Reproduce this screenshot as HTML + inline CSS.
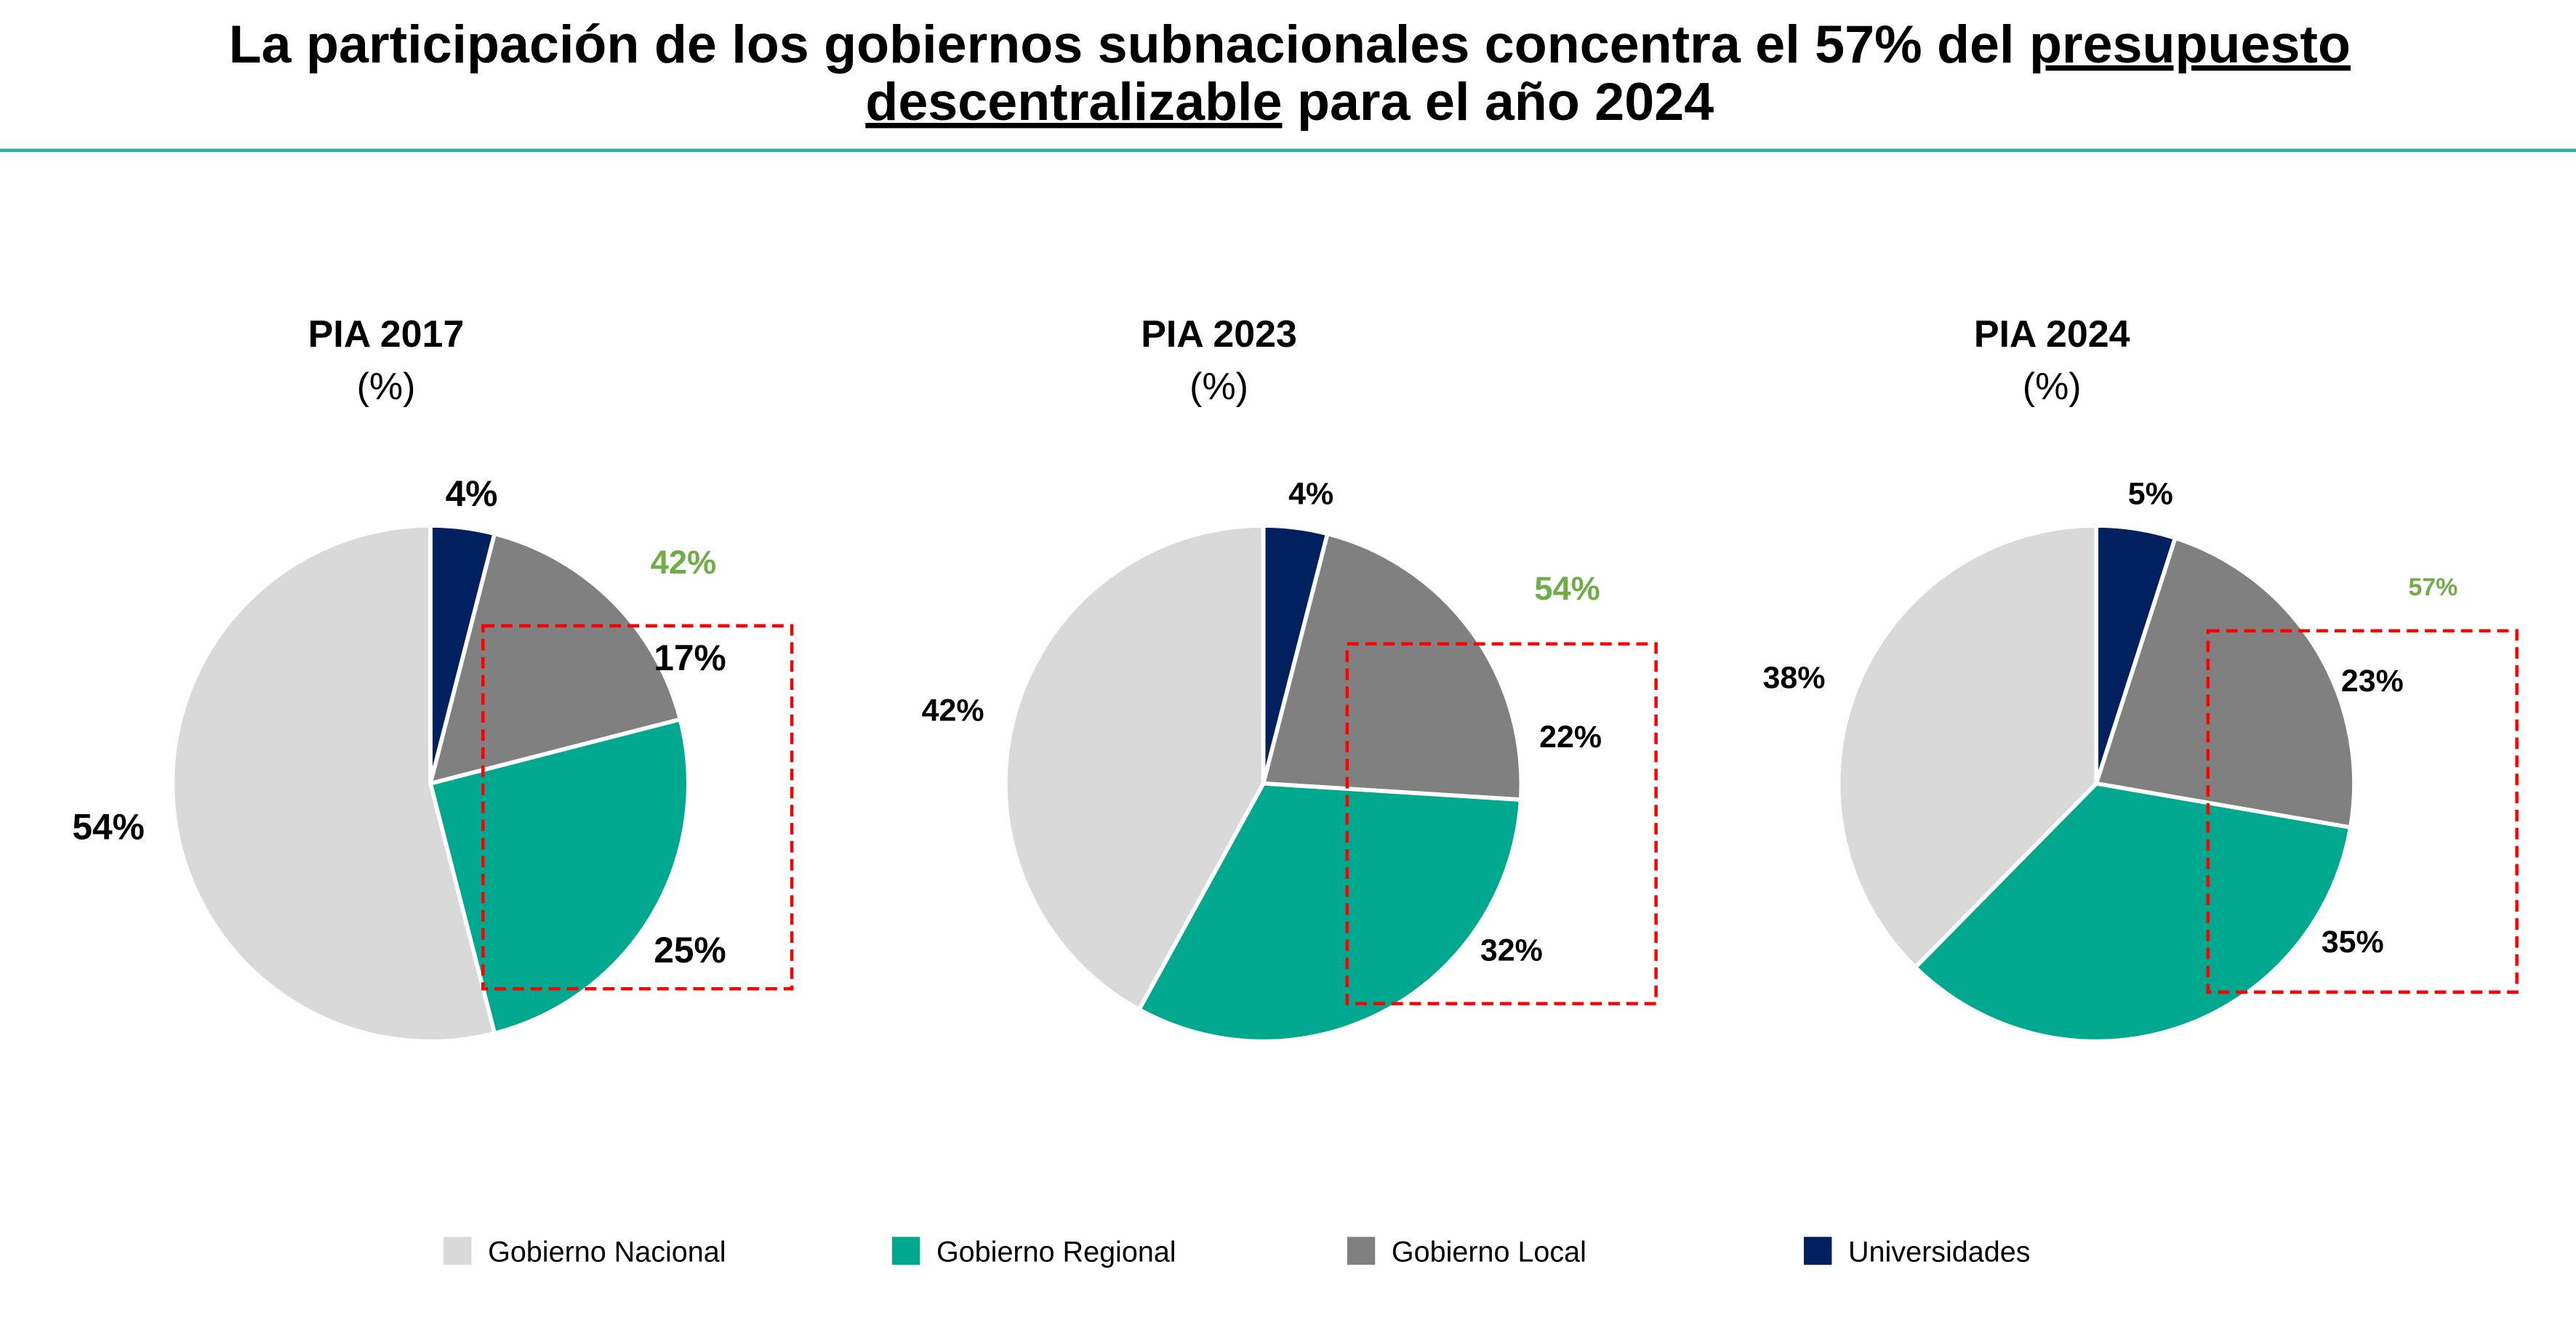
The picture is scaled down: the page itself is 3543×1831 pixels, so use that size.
<!DOCTYPE html>
<html><head><meta charset="utf-8"><style>
html,body{margin:0;padding:0;background:#fff;}
svg{display:block;font-family:"Liberation Sans",Arial,sans-serif;}
</style></head><body>
<svg id="chart" width="3543" height="1831" viewBox="0 0 1568 810.3" xmlns="http://www.w3.org/2000/svg">
<g font-weight="bold" font-size="32.6" text-anchor="middle" fill="#000">
<text x="785" y="38">La participación de los gobiernos subnacionales concentra el 57% del <tspan text-decoration="underline">presupuesto</tspan></text>
<text x="785" y="73"><tspan text-decoration="underline">descentralizable</tspan> para el año 2024</text>
</g>
<rect x="0" y="90.5" width="1568" height="2" fill="#2BAE9A"/>
<g id="pies"></g>
<g id="legend"></g>
</svg>
<script>
const categories = ["Universidades","Gobierno Local","Gobierno Regional","Gobierno Nacional"];
const colors = ["#002060","#808080","#00A88F","#D9D9D9"];
const titles = ["PIA 2017","PIA 2023","PIA 2024"];
const values2017 = [4,17,25,54];
const values2023 = [4,22,32,42];
const values2024 = [5,23,35,38];
const subnationalTotals = ["42%","54%","57%"];
const allValues = [values2017, values2023, values2024];

const NS="http://www.w3.org/2000/svg";
const pies=document.getElementById('pies');
const centers=[[262,477],[769,477],[1276,477]];
const R=157;
const labelPos=[
 [[287,300,22],[420,400,22],[420,578,22],[66,503,22]],
 [[798,300,19],[956,448,19],[920,578,19],[580,432,19]],
 [[1309,300,19],[1444,414,19],[1432,573,19],[1092,412,19]]
];
const totalPos=[[416,342,20],[954,358,20],[1481,357,15]];
const boxes=[[294,381,188,221],[820,392,188,219],[1344,384,188,220]];
function el(tag,attrs,parent){const e=document.createElementNS(NS,tag);for(const k in attrs)e.setAttribute(k,attrs[k]);parent.appendChild(e);return e;}
allValues.forEach((vals,pi)=>{
  const g=el('g',{},pies);
  
  
  const [cx,cy]=centers[pi];
  const tot=vals.reduce((a,b)=>a+b,0);
  let a0=0;
  vals.forEach((v,i)=>{
    const a1=a0+v/tot*2*Math.PI;
    const x0=cx+R*Math.sin(a0),y0=cy-R*Math.cos(a0),x1=cx+R*Math.sin(a1),y1=cy-R*Math.cos(a1);
    const large=(a1-a0)>Math.PI?1:0;
    const p=el('path',{d:`M${cx},${cy}L${x0},${y0}A${R},${R} 0 ${large} 1 ${x1},${y1}Z`,fill:colors[i],stroke:'#fff','stroke-width':2.5},g);
    
    
    a0=a1;
    const lp=labelPos[pi][i];
    const t=el('text',{x:lp[0],y:lp[1]+lp[2]*0.36,'text-anchor':'middle','font-weight':'bold','font-size':lp[2],fill:'#000'},g);
    t.textContent=v+'%';
    
    
  });
  const b=boxes[pi];
  const r=el('rect',{x:b[0],y:b[1],width:b[2],height:b[3],fill:'none',stroke:'#FF0000','stroke-width':2,'stroke-dasharray':'7,4'},g);
  
  
  const tp=totalPos[pi];
  const tt=el('text',{x:tp[0],y:tp[1]+tp[2]*0.36,'text-anchor':'middle','font-weight':'bold','font-size':tp[2],fill:'#70AD47'},g);
  tt.textContent=subnationalTotals[pi];
  
  
  const ti=el('text',{x:cx-27,y:211,'text-anchor':'middle','font-weight':'bold','font-size':23,fill:'#000'},g);
  ti.textContent=titles[pi];
  
  
  const su=el('text',{x:cx-27,y:243,'text-anchor':'middle','font-size':23,fill:'#000'},g);
  su.textContent='(%)';
  
  
});
const legend=document.getElementById('legend');
const legOrder=[3,2,1,0];
const legX=[270,543,820,1098];
legOrder.forEach((ci,k)=>{
  const g=el('g',{},legend);
  
  
  el('rect',{x:legX[k],y:753,width:17,height:17,fill:colors[ci]},g);
  const t=el('text',{x:legX[k]+27,y:768,'font-size':17.5,fill:'#000'},g);
  t.textContent=categories[ci];
});
</script>
</body></html>
